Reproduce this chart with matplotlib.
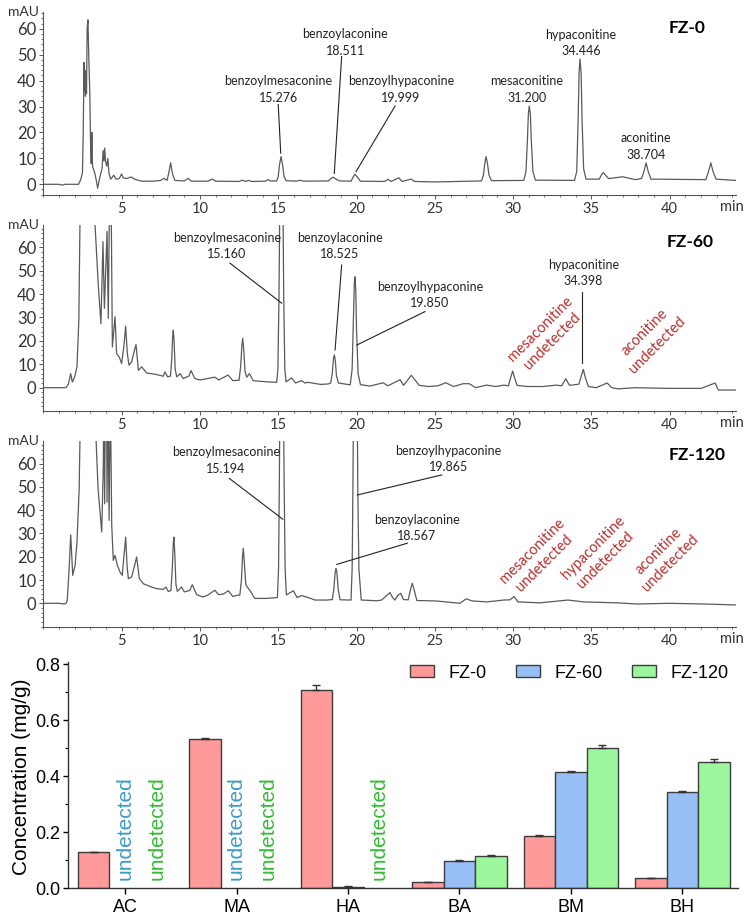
import matplotlib
matplotlib.use('Agg')
import matplotlib.pyplot as plt
from matplotlib.ticker import MultipleLocator
import numpy as np

# ---- chromatogram traces, (time min, signal mAU)
# peaks that run off the top of a panel get an estimated apex above the axis
fz0_trace = [
    (0, 0), (1.0, 0), (1.2, -0.3), (1.4, 0), (2.25, 0), (2.4, 2), (2.5, 4.5), (2.55, 20), (2.6, 47),
    (2.63, 36), (2.66, 44), (2.69, 34), (2.72, 41), (2.76, 35), (2.8, 60), (2.85, 63.5), (2.9, 50),
    (2.97, 35), (3.02, 15), (3.06, 8), (3.1, 20), (3.14, 7), (3.2, 6), (3.3, 4), (3.4, 1), (3.47, -1.5),
    (3.55, 1), (3.62, 3), (3.75, 6), (3.82, 13), (3.87, 9), (3.92, 14), (3.97, 9), (4.05, 7), (4.12, 10),
    (4.2, 4), (4.3, 2), (4.5, 3.5), (4.65, 2), (4.85, 2.2), (5.0, 4), (5.1, 2.5), (5.3, 2.2), (5.45, 2.5),
    (5.6, 2.8), (5.9, 1.8), (6.3, 1.2), (7.0, 1.2), (7.5, 1.5), (7.7, 2.3), (7.9, 1.5), (8.0, 4),
    (8.13, 8.3), (8.25, 4), (8.4, 1.5), (9.0, 1.3), (9.25, 2.3), (9.45, 1.2), (10.5, 1.2), (10.8, 2),
    (11.0, 1.2), (12.5, 1.1), (12.7, 1.6), (12.9, 1.1), (13.1, 1.5), (13.3, 1.1), (14.2, 1.2),
    (14.35, 1.8), (14.5, 1.3), (14.9, 1.3), (15.0, 3), (15.08, 7.5), (15.18, 10.7), (15.28, 7.5),
    (15.37, 3), (15.5, 1.4), (16.2, 1.2), (16.4, 1.6), (16.6, 1.2), (18.2, 1.3), (18.4, 2.4),
    (18.52, 2.7), (18.7, 2), (18.9, 1.3), (19.65, 1.2), (19.8, 3), (19.9, 3.9), (20.02, 3), (20.25, 1.2),
    (21.8, 1.1), (22.0, 1.9), (22.2, 1.1), (22.7, 2.5), (22.9, 1.1), (23.5, 2), (23.7, 1.1), (25.0, 0.9),
    (27.98, 1.3), (28.1, 3.5), (28.19, 8), (28.27, 10.7), (28.36, 8), (28.46, 3.5), (28.62, 1.4),
    (30.68, 1.5), (30.82, 5), (30.91, 17), (30.97, 27), (31.03, 30.2), (31.1, 27), (31.16, 17),
    (31.26, 5), (31.42, 1.6), (33.92, 1.5), (34.06, 5), (34.15, 25), (34.21, 43), (34.27, 48.3),
    (34.34, 43), (34.4, 25), (34.5, 6), (34.65, 2), (35.5, 2), (35.65, 3.8), (35.76, 4.5), (35.9, 3.5),
    (36.1, 2.2), (37.0, 2.9), (37.8, 1.8), (38.2, 2.2), (38.35, 5), (38.49, 8.3), (38.62, 5), (38.8, 2),
    (42.3, 1.8), (42.48, 5), (42.62, 8.3), (42.76, 5), (42.95, 2), (44.2, 1.5)]

fz60_trace = [
    (0, 0), (1.0, 0), (1.45, 0), (1.6, 1.5), (1.75, 6), (1.85, 2.4), (2.0, 4.6), (2.15, 8.9), (2.27, 29),
    (2.34, 70), (2.45, 150), (2.6, 250), (2.9, 200), (3.2, 120), (3.3, 70), (3.51, 43.9), (3.68, 27.4),
    (3.81, 62.4), (3.9, 33.9), (4.07, 66.7), (4.15, 29.6), (4.24, 90), (4.28, 75), (4.32, 90),
    (4.41, 17.4), (4.58, 30.3), (4.68, 14.6), (4.85, 13.1), (5.0, 10.3), (5.15, 18), (5.26, 26.3),
    (5.36, 15), (5.47, 9.6), (5.64, 11), (5.82, 16), (5.92, 18.4), (6.07, 7.4), (6.28, 8.9), (6.6, 6.3),
    (7.24, 5.6), (7.66, 4.9), (7.77, 6.7), (7.94, 4.6), (8.12, 5), (8.2, 12), (8.26, 22), (8.3, 24.6),
    (8.35, 20), (8.42, 8), (8.52, 4.6), (8.73, 6), (8.94, 3.9), (9.3, 5), (9.43, 7.3), (9.68, 3.9),
    (10.0, 3.3), (10.96, 4.5), (11.2, 3.3), (11.8, 5.4), (12.1, 3), (12.5, 3.2), (12.6, 9), (12.68, 18),
    (12.73, 21.1), (12.79, 17), (12.88, 7), (12.99, 4.5), (13.16, 6), (13.4, 3), (14.26, 2.5),
    (14.9, 2.3), (14.98, 8), (15.05, 40), (15.1, 80), (15.2, 150), (15.3, 80), (15.35, 40), (15.42, 8),
    (15.5, 2.5), (15.86, 4.2), (16.1, 2), (16.5, 3), (16.7, 2), (16.9, 2.3), (17.7, 1.4), (18.2, 1.6),
    (18.35, 2), (18.45, 6), (18.53, 12.5), (18.58, 14), (18.64, 12), (18.72, 5), (18.85, 2), (19.5, 1.3),
    (19.6, 1.3), (19.72, 8), (19.8, 30), (19.86, 45), (19.9, 47.4), (19.95, 42), (20.0, 25), (20.1, 6),
    (20.25, 1.3), (20.86, 0.7), (21.7, 2.1), (22.0, 0.8), (22.78, 3.4), (23.0, 1), (23.5, 5.3), (24.0, 1),
    (24.6, 0.5), (25.2, 0.8), (25.7, 2.1), (26.2, 0.5), (26.8, 1.7), (27.2, 1.7), (27.6, 0), (28.3, 1.1),
    (28.9, 0.5), (29.4, 1.1), (29.7, 0.8), (29.85, 4.5), (29.97, 7.1), (30.1, 4), (30.25, 1), (30.9, 0.5),
    (31.9, 0.5), (32.75, 1.1), (33.1, 0.8), (33.36, 3.8), (33.6, 1), (34.2, 1.5), (34.35, 5),
    (34.48, 7.8), (34.6, 4.5), (34.8, 0.5), (35.3, 0), (36.0, 2), (36.3, 0), (36.7, -0.5), (37.8, 0),
    (39.9, -0.3), (42.0, -0.3), (42.9, 2), (43.1, -1), (44.2, -1)]

fz120_trace = [
    (0, 0), (1.0, 0), (1.3, -0.3), (1.45, 0), (1.53, 1.3), (1.65, 15), (1.75, 29.4), (1.88, 12),
    (2.03, 16.3), (2.15, 26.3), (2.29, 49), (2.34, 70), (2.5, 200), (2.8, 250), (3.2, 150), (3.37, 70),
    (3.5, 49), (3.73, 30.6), (3.83, 57.7), (3.86, 90), (3.92, 42.7), (3.96, 90), (4.04, 90), (4.07, 43.4),
    (4.13, 90), (4.2, 35.6), (4.28, 90), (4.37, 33.4), (4.47, 18.4), (4.58, 20.6), (4.73, 16.3),
    (4.9, 13.4), (5.04, 12), (5.15, 20), (5.26, 28.4), (5.35, 16), (5.43, 10.6), (5.64, 11.3),
    (5.86, 17), (5.96, 19.9), (6.13, 10.6), (6.39, 8.4), (6.9, 7), (7.24, 6.3), (7.66, 6), (7.83, 7),
    (7.98, 5.1), (8.15, 5.5), (8.23, 14), (8.3, 26), (8.34, 28.4), (8.39, 22), (8.47, 8), (8.56, 5.1),
    (8.83, 7), (9.0, 4.9), (9.35, 5.5), (9.51, 8), (9.79, 3.7), (10.2, 2.7), (10.5, 3.5), (10.95, 5.6),
    (11.2, 3.7), (11.5, 4), (11.82, 5.4), (12.1, 2.9), (12.4, 3.5), (12.55, 3.5), (12.65, 10),
    (12.72, 20), (12.77, 23.6), (12.83, 18), (12.93, 8), (13.09, 6.4), (13.2, 5.5), (13.5, 2.1),
    (14.26, 2.1), (14.95, 2.5), (15.02, 15), (15.07, 50), (15.12, 100), (15.22, 160), (15.32, 100),
    (15.38, 50), (15.44, 15), (15.52, 3.6), (15.97, 5.4), (16.2, 2.5), (16.5, 3.3), (16.9, 2.5),
    (17.35, 1.4), (18.1, 1.4), (18.45, 1.6), (18.55, 6), (18.63, 13), (18.69, 15), (18.75, 13),
    (18.83, 6), (18.95, 1.5), (19.65, 1.4), (19.72, 15), (19.77, 50), (19.82, 100), (19.93, 160),
    (20.03, 100), (20.08, 50), (20.15, 15), (20.3, 1.4), (21.3, 1.1), (21.6, 1.4), (21.95, 3.5),
    (22.14, 4.6), (22.3, 2.5), (22.45, 1.4), (22.65, 3.5), (22.82, 4.3), (23.0, 1.6), (23.3, 1.5),
    (23.45, 6), (23.56, 8.6), (23.67, 6), (23.85, 1.2), (25.1, 1), (26.6, 0), (27.0, 1.9), (27.4, 1),
    (28.3, 0.6), (29.4, 1.4), (29.8, 1.5), (30.06, 2.9), (30.3, 0.6), (31.7, 0.2), (32.6, 0.8),
    (33.5, 1.4), (34.5, 0.6), (36.6, 0.2), (37.9, -0.3), (40.0, 0), (42.2, -0.3), (44.2, -0.7)]

# ---- bar chart values (mg/g)
categories = ['AC', 'MA', 'HA', 'BA', 'BM', 'BH']
groups = ['FZ-0', 'FZ-60', 'FZ-120']
conc_fz0 = [0.129, 0.534, 0.709, 0.021, 0.188, 0.036]
conc_fz60 = [0, 0, 0.006, 0.098, 0.414, 0.344]
conc_fz120 = [0, 0, 0, 0.117, 0.502, 0.450]
err_fz0 = [0.001, 0.004, 0.016, 0.001, 0.003, 0.001]
err_fz60 = [0, 0, 0.001, 0.002, 0.004, 0.004]
err_fz120 = [0, 0, 0, 0.002, 0.011, 0.011]
undetected_fz60 = [0, 1]   # category index
undetected_fz120 = [0, 1, 2]

W, H = 756, 917
fig = plt.figure(figsize=(W / 100, H / 100), dpi=100)

def rect(l, t, r, b):
    return [l / W, 1 - b / H, (r - l) / W, (b - t) / H]

cfont = 'Lato'
line_col = '#5a5a5a'
red_col = '#b5312f'

def chrom_axes(r, ylim):
    ax = fig.add_axes(r)
    ax.set_xlim(0, 44.21)
    ax.set_ylim(*ylim)
    for s in ['top', 'right']:
        ax.spines[s].set_visible(False)
    for s in ['left', 'bottom']:
        ax.spines[s].set_color('#555555')
        ax.spines[s].set_linewidth(0.8)
    ax.set_xticks(range(5, 45, 5))
    ax.xaxis.set_minor_locator(MultipleLocator(1))
    ax.set_yticks(range(0, 70, 10))
    ax.yaxis.set_minor_locator(MultipleLocator(2))
    ax.tick_params(axis='both', which='major', direction='out', length=3, width=0.7, color='#555555', pad=2)
    ax.tick_params(axis='both', which='minor', direction='out', length=1.5, width=0.6, color='#555555')
    for lab in ax.get_yticklabels():
        lab.set_fontfamily(cfont)
        lab.set_fontsize(12)
        lab.set_color('#333333')
    for lab in ax.get_xticklabels():
        lab.set_fontfamily(cfont)
        lab.set_fontsize(10.5)
        lab.set_color('#333333')
    ax.text(-0.006, 1.0, 'mAU', transform=ax.transAxes, ha='right', va='center',
            fontfamily=cfont, fontsize=10, color='#333333')
    ax.annotate('min', xy=(1, 0), xycoords='axes fraction', xytext=(-3, -3.5),
                textcoords='offset points', ha='center', va='top',
                fontfamily=cfont, fontsize=10.5, color='#333333')
    return ax

def trace(ax, pts):
    t, y = zip(*pts)
    ax.plot(t, y, color=line_col, lw=0.9, solid_joinstyle='round')

def label(ax, x, y, s, line=None):
    ax.text(x, y, s, ha='center', va='center', fontfamily=cfont, fontsize=9,
            linespacing=1.45, color='#222222')
    if line is not None:
        ax.plot(line[0], line[1], color='#222222', lw=0.8)

def undet(ax, x, y, s):
    ax.text(x, y, s, ha='center', va='center', rotation=45, rotation_mode='anchor',
            fontfamily=cfont, fontsize=10.5, linespacing=1.3, color=red_col, multialignment='center')

# FZ-0
ax1 = chrom_axes(rect(43.3, 12, 735.7, 195), (-4.13, 66.5))
trace(ax1, fz0_trace)
label(ax1, 15.0, 36.5, 'benzoylmesaconine\n15.276', ([15.0, 15.16], [30.8, 12.0]))
label(ax1, 19.27, 54.7, 'benzoylaconine\n18.511', ([19.05, 18.58], [49.3, 4.2]))
label(ax1, 22.84, 36.5, 'benzoylhypaconine\n19.999', ([22.46, 19.97], [30.2, 4.9]))
label(ax1, 30.87, 36.5, 'mesaconitine\n31.200')
label(ax1, 34.32, 54.6, 'hypaconitine\n34.446')
label(ax1, 38.49, 14.5, 'aconitine\n38.704')
ax1.text(41.09, 60.2, 'FZ-0', ha='center', va='center', fontfamily=cfont, fontsize=12.5, fontweight='bold')

# FZ-60
ax2 = chrom_axes(rect(43.3, 225, 735.7, 411), (-9.96, 69.5))
trace(ax2, fz60_trace)
label(ax2, 11.71, 60.5, 'benzoylmesaconine\n15.160', ([11.92, 15.22], [53.2, 36.1]))
label(ax2, 18.95, 60.5, 'benzoylaconine\n18.525', ([19.05, 18.63], [52.4, 16.1]))
label(ax2, 24.69, 39.5, 'benzoylhypaconine\n19.850', ([24.37, 20.01], [32.5, 18.2]))
label(ax2, 34.48, 48.9, 'hypaconitine\n34.398', ([34.38, 34.38], [41.0, 10.4]))
undet(ax2, 32.1, 22.3, 'mesaconitine\nundetected')
undet(ax2, 38.8, 20.9, 'aconitine\nundetected')
ax2.text(41.3, 62.4, 'FZ-60', ha='center', va='center', fontfamily=cfont, fontsize=12.5, fontweight='bold')

# FZ-120
ax3 = chrom_axes(rect(43.3, 440.7, 735.7, 627.3), (-10.3, 69.8))
trace(ax3, fz120_trace)
label(ax3, 11.67, 61.4, 'benzoylmesaconine\n15.194', ([11.88, 15.29], [53.6, 36.1]))
label(ax3, 25.86, 61.9, 'benzoylhypaconine\n19.865', ([25.44, 20.05], [55.1, 46.5]))
label(ax3, 23.84, 32.3, 'benzoylaconine\n18.567', ([23.24, 18.74], [25.8, 16.7]))
undet(ax3, 31.6, 19.8, 'mesaconitine\nundetected')
undet(ax3, 35.5, 21.3, 'hypaconitine\nundetected')
undet(ax3, 39.65, 19.8, 'aconitine\nundetected')
ax3.text(41.72, 63.6, 'FZ-120', ha='center', va='center', fontfamily=cfont, fontsize=12.5, fontweight='bold')

# ---- bar chart
bfont = 'Liberation Sans'
axb = fig.add_axes(rect(68.3, 661.7, 738, 888.3))
x = np.arange(len(categories))
bw = 0.283
cols = ['#ff9a9a', '#98bff5', '#9cf79c']
vals = [conc_fz0, conc_fz60, conc_fz120]
errs = [err_fz0, err_fz60, err_fz120]
for i in range(3):
    pos = x + (i - 1) * bw
    v = np.array(vals[i])
    show = v > 0
    axb.bar(pos[show], v[show], bw, color=cols[i], edgecolor='#3c3c3c', linewidth=1.0,
            label=groups[i], zorder=2)
    e = np.array(errs[i])[show]
    axb.errorbar(pos[show], v[show], yerr=[np.zeros_like(e), e], fmt='none',
                 ecolor='#333333', elinewidth=1.0, capsize=3, capthick=1.0, zorder=3)
for c in undetected_fz60:
    axb.text(x[c], 0.03, 'undetected', rotation=90, ha='center', va='bottom',
             fontfamily=bfont, fontsize=15, color='#3a9cc6')
for c in undetected_fz120:
    axb.text(x[c] + bw, 0.03, 'undetected', rotation=90, ha='center', va='bottom',
             fontfamily=bfont, fontsize=15, color='#33bb33')
axb.set_xlim(-0.51, 5.5)
axb.set_ylim(0, 0.81)
axb.set_xticks(x)
axb.set_xticklabels(categories, fontfamily=bfont, fontsize=13)
axb.set_yticks([0, 0.2, 0.4, 0.6, 0.8])
axb.set_yticklabels(['0.0', '0.2', '0.4', '0.6', '0.8'], fontfamily=bfont, fontsize=13)
axb.yaxis.set_minor_locator(MultipleLocator(0.1))
axb.tick_params(axis='y', which='major', direction='out', length=3.5, width=1, pad=2)
axb.tick_params(axis='y', which='minor', direction='out', length=2, width=0.8)
axb.tick_params(axis='x', which='major', direction='out', length=4.5, width=1, pad=3)
for s in ['top', 'right']:
    axb.spines[s].set_visible(False)
for s in ['left', 'bottom']:
    axb.spines[s].set_linewidth(1.0)
    axb.spines[s].set_color('#333333')
fig.text(22 / W, 1 - 777 / H, 'Concentration (mg/g)', rotation=90, ha='center', va='center',
         fontfamily=bfont, fontsize=15)
leg = axb.legend(loc='center', bbox_to_anchor=(0.748, 0.95), ncol=3, frameon=False,
                 prop={'family': bfont, 'size': 13}, handlelength=1.3, handleheight=0.67,
                 handletextpad=0.8, columnspacing=1.65, borderpad=0)

fig.savefig('out.png', dpi=100)
